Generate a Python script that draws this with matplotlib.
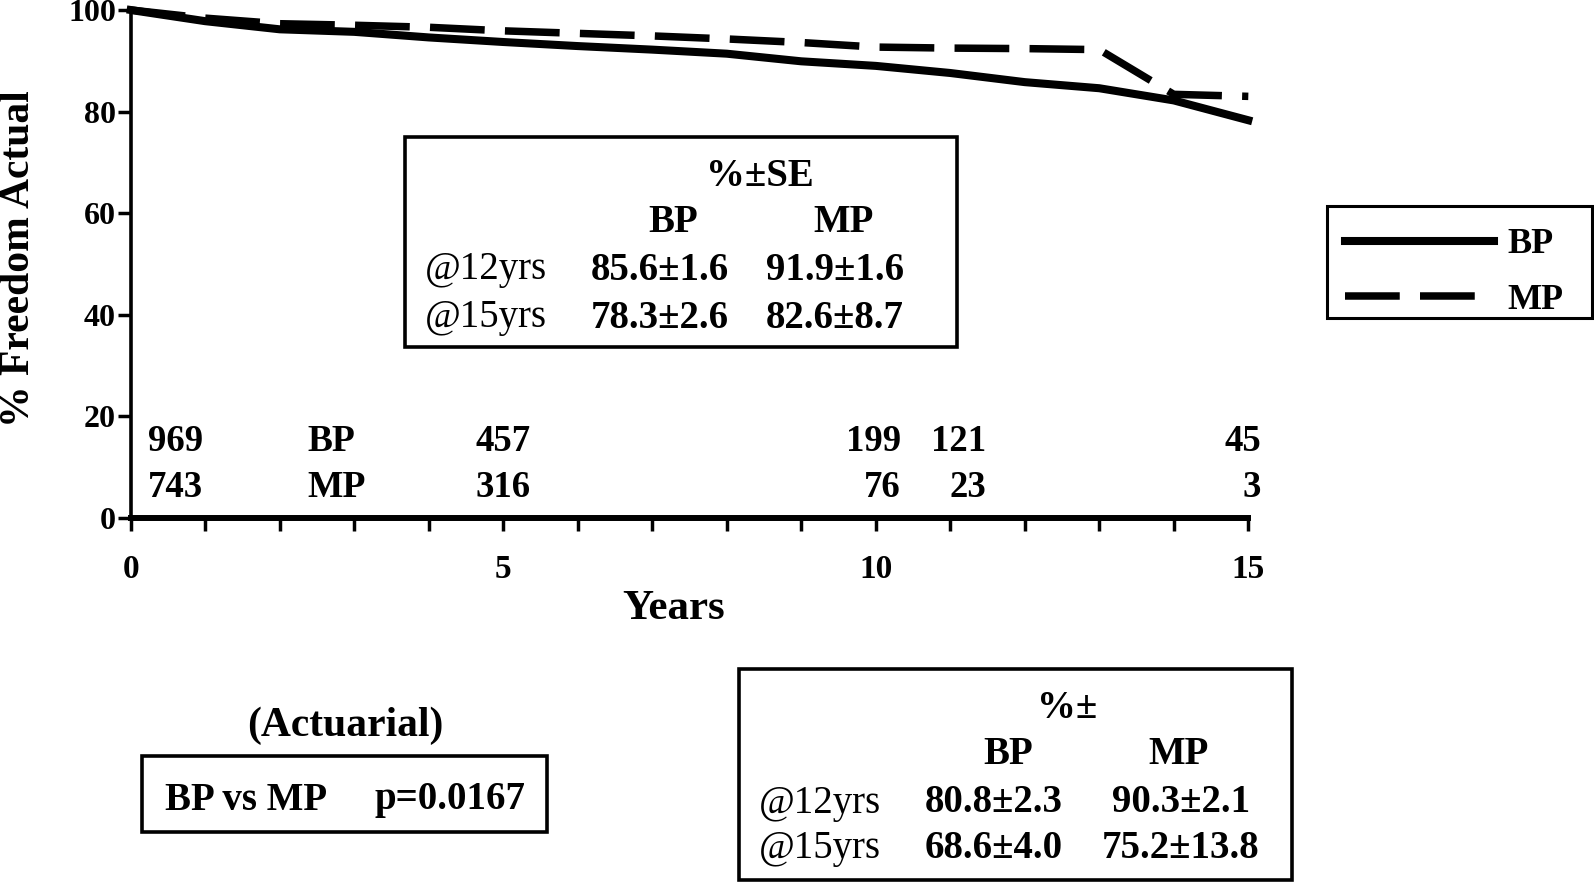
import numpy as np
import matplotlib
matplotlib.use("Agg")
import matplotlib.pyplot as plt
from matplotlib.patches import Rectangle

plt.rcParams['font.family'] = ['Liberation Serif', 'DejaVu Serif']
plt.rcParams['font.weight'] = 'bold'

# actuarial freedom curves (% vs years)
years = np.arange(0, 16)
bp_free = [100, 97.8, 96.2, 95.7, 94.6, 93.7, 92.9, 92.2, 91.4, 89.9, 89.0, 87.6, 85.8, 84.6, 82.2, 78.3]
mp_free = [100, 98.4, 97.3, 97.0, 96.6, 95.9, 95.4, 94.9, 94.3, 93.6, 92.7, 92.5, 92.4, 92.2, 83.4, 83.0]

# numbers at risk
bp_at_risk = [969, 457, 199, 121, 45]
mp_at_risk = [743, 316, 76, 23, 3]

# summary tables
row_labels = ['@12yrs', '@15yrs']
bp_se = ['85.6±1.6', '78.3±2.6']
mp_se = ['91.9±1.6', '82.6±8.7']
bp_pm = ['80.8±2.3', '68.6±4.0']
mp_pm = ['90.3±2.1', '75.2±13.8']
p_value = 'p=0.0167'

W, H = 1594, 882
fig = plt.figure(figsize=(W / 100, H / 100), dpi=100)


def fx(x):
    return x / W


def fy(y):
    return 1 - y / H


ax = fig.add_axes([fx(130.7), fy(518), fx(1248.3) - fx(130.7), fy(10) - fy(518)])

solid, = ax.plot(years, bp_free, color='black', lw=5.8, solid_joinstyle='miter',
                 clip_on=False, label='BP')
dashed, = ax.plot(years, mp_free, color='black', lw=5.4, dashes=(7.3, 2.7),
                  clip_on=False, label='MP')

ax.set_xlim(0, 15)
ax.set_ylim(0, 100)
ax.set_xticks(years)
ax.set_xticklabels([str(y) if y % 5 == 0 else '' for y in years])
ax.set_yticks(range(0, 101, 20))
for s in ['top', 'right']:
    ax.spines[s].set_visible(False)
ax.spines['left'].set_linewidth(2.6)
ax.spines['bottom'].set_linewidth(4.3)
ax.tick_params(axis='y', length=9.5, width=2.5, labelsize=23, pad=1)
ax.tick_params(axis='x', length=9, width=2.5, labelsize=24, pad=17)

ax.set_xlabel('Years', fontsize=31, fontweight='bold')
ax.xaxis.set_label_coords(0.486, -0.18)
ax.xaxis.label.set_va('center')
ax.set_ylabel('% Freedom Actual', fontsize=30, fontweight='bold')
ax.yaxis.set_label_coords(-0.1, 0.51)
ax.yaxis.label.set_va('center')

# numbers at risk
risk_x = [0.97, 5.37, 10.34, 11.48, 15.17]
for x, b, m in zip(risk_x, bp_at_risk, mp_at_risk):
    ax.text(x, 15.0, str(b), ha='right', va='center', fontsize=26.5, clip_on=False)
    ax.text(x, 6.0, str(m), ha='right', va='center', fontsize=26.5, clip_on=False)
ax.text(2.37, 15.0, 'BP', ha='left', va='center', fontsize=27)
ax.text(2.37, 6.0, 'MP', ha='left', va='center', fontsize=27)


def box(x0, y0, x1, y1, lw=2.6):
    fig.patches.append(Rectangle((fx(x0), fy(y1)), fx(x1) - fx(x0), fy(y0) - fy(y1),
                                 transform=fig.transFigure, fill=False,
                                 edgecolor='black', lw=lw, zorder=5))


def table(x0, y0, x1, y1, title, title_xy, head_y, head_x, val_x, row_y, label_x, col_a, col_b):
    box(x0, y0, x1, y1)
    fig.text(fx(title_xy[0]), fy(title_xy[1]), title, ha='center', va='center', fontsize=28)
    fig.text(fx(head_x[0]), fy(head_y), 'BP', ha='center', va='center', fontsize=28)
    fig.text(fx(head_x[1]), fy(head_y), 'MP', ha='center', va='center', fontsize=28)
    for ry, lab, a, b in zip(row_y, row_labels, col_a, col_b):
        fig.text(fx(label_x), fy(ry), lab, ha='left', va='center', fontsize=28,
                 fontweight='normal')
        fig.text(fx(val_x[0]), fy(ry), a, ha='center', va='center', fontsize=28)
        fig.text(fx(val_x[1]), fy(ry), b, ha='center', va='center', fontsize=28)


table(404.6, 137, 956.6, 346.5, '%±SE', (760, 176), 222.5, (673, 844), (660, 835),
      (270, 318), 425, bp_se, mp_se)
table(739, 669, 1292, 880, '%±', (1067, 708), 754, (1008, 1179), (994, 1181),
      (803, 848.5), 759, bp_pm, mp_pm)

# actuarial comparison
fig.text(fx(345.6), fy(725.5), '(Actuarial)', ha='center', va='center', fontsize=30)
box(142, 756, 547, 832)
fig.text(fx(164.7), fy(800), 'BP vs MP', ha='left', va='center', fontsize=28)
fig.text(fx(525.6), fy(800), p_value, ha='right', va='center', fontsize=28)

# legend (own frame drawn separately)
box(1326.7, 206, 1592, 318, lw=2.2)
leg = fig.legend(handles=[solid, dashed], loc='upper left',
                 bbox_to_anchor=(fx(1345), fy(228)), fontsize=26, frameon=False,
                 handlelength=4.13, handletextpad=0.36, labelspacing=0.62,
                 borderpad=0, borderaxespad=0)

fig.savefig('out.png', dpi=100)
